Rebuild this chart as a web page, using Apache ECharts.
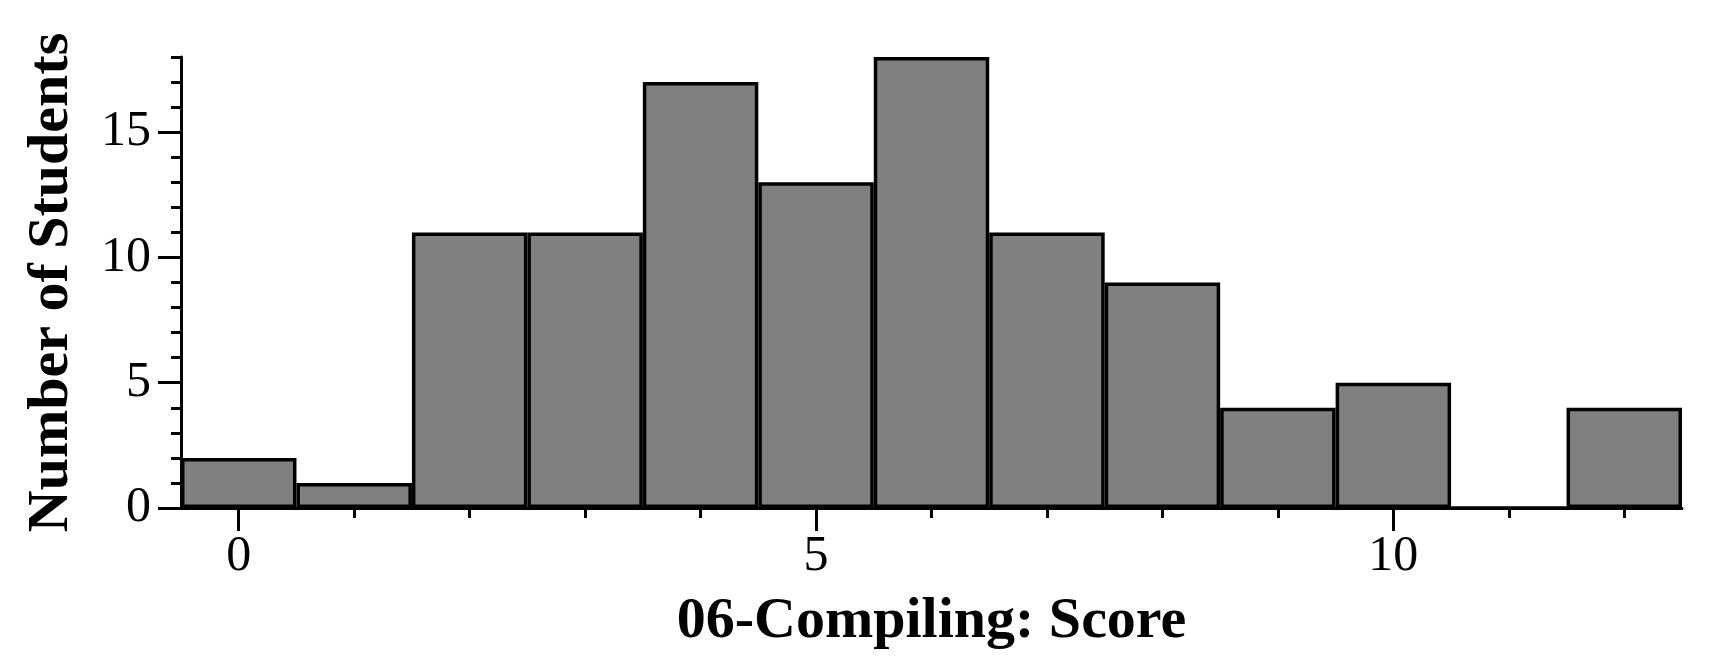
<!DOCTYPE html>
<html>
<head>
<meta charset="utf-8">
<script src="https://cdn.jsdelivr.net/npm/echarts@6/dist/echarts.min.js"></script>
<style>
html,body{margin:0;padding:0;background:#fff;}
#chart{width:1720px;height:670px;}
</style>
</head>
<body>
<div id="chart"></div>
<script>
// Data
const scoreCategories = ['0','1','2','3','4','5','6','7','8','9','10','11','12'];
const studentCounts = [2, 1, 11, 11, 17, 13, 18, 11, 9, 4, 5, 0, 4];
const xMajorLabels = ['0', '5', '10'];
const yMajorTicks = [0, 5, 10, 15];
const yMinorTicks = [1, 2, 3, 4, 6, 7, 8, 9, 11, 12, 13, 14, 16, 17, 18];
const yMax = 18;
const xTitle = '06-Compiling: Score';
const yTitle = 'Number of Students';

const FONT = '"Liberation Serif", "Times New Roman", serif';
const isMajorX = (idx) => xMajorLabels.indexOf(scoreCategories[idx]) >= 0;

const chart = echarts.init(document.getElementById('chart'), null, {renderer: 'canvas'});
chart.setOption({
  animation: false,
  backgroundColor: '#ffffff',
  grid: {left: 181, right: 38, top: 57, bottom: 162, containLabel: false},
  xAxis: [
    {
      type: 'category',
      data: scoreCategories,
      boundaryGap: true,
      position: 'bottom',
      axisLine: {show: true, lineStyle: {color: '#000', width: 3}},
      axisTick: {show: true, alignWithLabel: true, length: 23, lineStyle: {color: '#000', width: 3},
                 interval: (idx) => isMajorX(idx)},
      axisLabel: {show: true, margin: 24, fontFamily: FONT, fontSize: 50, color: '#000',
                  interval: (idx) => isMajorX(idx)},
      splitLine: {show: false},
      name: xTitle,
      nameLocation: 'middle',
      nameGap: 85,
      nameTextStyle: {fontFamily: FONT, fontSize: 58, fontWeight: 'bold', color: '#000'}
    },
    {
      type: 'category',
      data: scoreCategories,
      boundaryGap: true,
      position: 'bottom',
      axisLine: {show: false},
      axisTick: {show: true, alignWithLabel: true, length: 10, lineStyle: {color: '#000', width: 3},
                 interval: (idx) => !isMajorX(idx)},
      axisLabel: {show: false},
      splitLine: {show: false}
    }
  ],
  yAxis: [
    {
      type: 'value',
      min: 0,
      max: yMax,
      position: 'left',
      axisLine: {show: true, lineStyle: {color: '#000', width: 3}},
      axisTick: {show: true, length: 23, customValues: yMajorTicks, lineStyle: {color: '#000', width: 3}},
      axisLabel: {show: true, margin: 30, customValues: yMajorTicks, fontFamily: FONT, fontSize: 50, color: '#000'},
      splitLine: {show: false},
      name: yTitle,
      nameLocation: 'middle',
      nameGap: 100,
      nameRotate: 90,
      nameTextStyle: {fontFamily: FONT, fontSize: 58, fontWeight: 'bold', color: '#000'}
    },
    {
      type: 'value',
      min: 0,
      max: yMax,
      position: 'left',
      axisLine: {show: false},
      axisTick: {show: true, length: 10, customValues: yMinorTicks, lineStyle: {color: '#000', width: 3}},
      axisLabel: {show: false},
      splitLine: {show: false}
    }
  ],
  series: [
    {
      type: 'bar',
      xAxisIndex: 0,
      yAxisIndex: 0,
      data: studentCounts,
      barCategoryGap: '0%',
      barWidth: '100%',
      itemStyle: {color: '#808080', borderColor: '#000', borderWidth: 3.5}
    }
  ]
});
</script>
</body>
</html>
